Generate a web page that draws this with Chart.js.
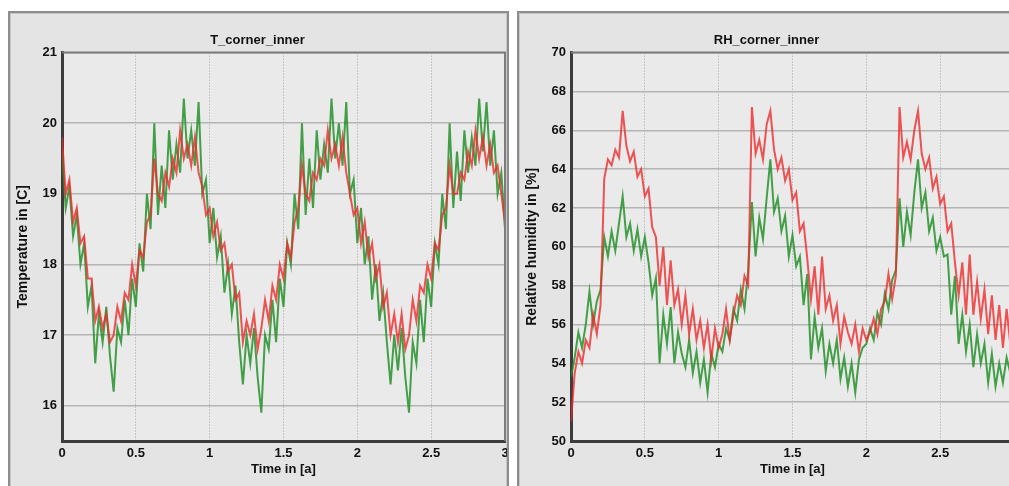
<html>
<head>
	<title>corner_inner</title>
	<meta charset="utf-8">
	<script src="https://cdn.jsdelivr.net/npm/chart.js"></script>
	<style>
		body { margin: 0; width: 1009px; height: 486px; overflow: hidden; background: #fff; position: relative; }
		.panel { position: absolute; top: 11px; width: 501px; height: 480px; box-sizing: border-box; border: 2px solid #8d8d8d; background: #e4e4e4; box-shadow: inset 0 0 0 1px #c6c6c6; }
		.panel canvas { position: absolute; left: 0; top: 0; }
		#panelT { left: 8px; }
		#panelRH { left: 517px; }
	</style>
</head>
<body>
	<div class="panel" id="panelT"><canvas id="tCornerInner" width="497" height="476"></canvas></div>
	<div class="panel" id="panelRH"><canvas id="rhCornerInner" width="497" height="476"></canvas></div>
</body>
<script>
	// samples every 0.025 a (121 points, 0 .. 3)
	const timeStep = 0.025;
	const timeTicks = [0, 0.5, 1, 1.5, 2, 2.5, 3];
	const tTicks = [16, 17, 18, 19, 20, 21];
	const rhTicks = [50, 52, 54, 56, 58, 60, 62, 64, 66, 68, 70];

	const tRed = [
		19.8, 19.0, 19.2, 18.6, 18.8, 18.3, 18.4, 17.8, 17.8, 17.2,
		17.4, 17.1, 17.3, 16.9, 17.0, 17.4, 17.2, 17.6, 17.5, 18.0,
		17.7, 18.2, 18.1, 18.6, 18.7, 19.5, 19.0, 18.9, 19.3, 19.1,
		19.5, 19.3, 19.9, 19.5, 19.7, 19.4, 19.8, 19.3, 19.1, 18.7,
		18.8, 18.4, 18.6, 18.2, 18.3, 17.9, 18.0, 17.5, 17.6, 16.9,
		17.2, 17.0, 17.3, 16.8, 17.1, 17.5, 17.2, 17.7, 17.5, 18.0,
		17.8, 18.3, 18.1, 18.6, 18.8, 19.4, 19.0, 18.9, 19.3, 19.2,
		19.5, 19.4, 19.9, 19.5, 19.7, 19.4, 19.8, 19.3, 19.0, 18.7,
		18.8, 18.3, 18.6, 18.1, 18.3, 17.8, 18.0, 17.4, 17.6, 17.0,
		17.3, 16.9, 17.3, 16.8, 17.0, 17.5, 17.2, 17.7, 17.6, 18.0,
		17.8, 18.3, 18.2, 18.7, 18.8, 19.4, 19.0, 19.0, 19.3, 19.2,
		19.6, 19.4, 19.9, 19.5, 19.8, 19.4, 19.7, 19.3, 19.4, 19.0,
		18.6
	];
	const tGreen = [
		19.6, 18.8, 19.1, 18.4, 18.7, 18.0, 18.3, 17.4, 17.7, 16.6,
		17.3, 16.9, 17.4, 16.7, 16.2, 17.1, 16.9, 17.5, 17.0, 17.8,
		17.4, 18.3, 17.9, 19.0, 18.5, 20.0, 18.7, 19.4, 18.8, 19.9,
		19.2, 19.7, 19.3, 20.35, 19.5, 19.9, 19.4, 20.3, 19.0, 19.2,
		18.3, 18.8, 18.1, 18.4, 17.6, 18.0, 17.3, 17.7, 16.9, 16.3,
		17.0, 16.6, 17.1, 16.4, 15.9, 17.0, 16.8, 17.5, 16.9, 17.8,
		17.4, 18.3, 18.0, 19.0, 18.5, 20.0, 18.7, 19.5, 18.8, 19.9,
		19.2, 19.7, 19.3, 20.35, 19.5, 20.0, 19.4, 20.3, 19.0, 19.2,
		18.3, 18.8, 18.0, 18.4, 17.5, 18.0, 17.2, 17.6, 16.9, 16.3,
		17.0, 16.5, 17.1, 16.4, 15.9, 16.9, 16.6, 17.5, 16.9, 17.8,
		17.4, 18.3, 18.0, 19.0, 18.5, 20.0, 18.8, 19.6, 18.9, 19.9,
		19.3, 19.8, 19.4, 20.35, 19.6, 20.3, 19.4, 19.9, 19.0, 19.3,
		18.5
	];
	const rhRed = [
		51.0, 53.5, 54.6, 54.0, 55.2, 54.8, 56.5, 55.5, 57.0, 63.5,
		64.5, 64.2, 65.0, 64.6, 67.0, 65.2, 64.4, 64.9, 63.6, 64.0,
		62.6, 63.0, 61.0, 60.5, 58.0, 60.0, 57.0, 59.3, 57.0, 57.8,
		56.0, 57.5, 55.5, 56.8, 55.2, 56.2, 54.8, 56.0, 54.2, 55.8,
		54.8, 55.5, 56.8, 55.2, 56.5, 57.5, 57.0, 58.5, 58.0, 67.2,
		64.8, 65.5, 64.5, 66.3, 67.0, 65.0, 64.0, 64.6, 63.4, 64.0,
		62.4, 62.8, 60.8, 61.2, 59.4, 57.3, 59.0, 56.5, 59.5, 56.8,
		57.5, 56.2, 57.0, 55.0, 56.4, 55.6, 55.0, 56.0, 54.6, 55.8,
		55.2, 55.6, 56.3, 55.5, 56.8, 57.2, 58.6, 57.3, 58.5, 67.2,
		64.6, 65.4, 64.5, 66.0, 67.0, 64.8, 64.0, 64.6, 63.0, 63.6,
		62.2, 62.6, 60.8, 61.2, 59.2, 57.5, 59.2, 56.5, 59.6, 56.5,
		58.2, 56.3, 57.8, 55.5, 57.5, 55.2, 57.0, 54.8, 56.8, 55.0,
		55.5
	];
	const rhGreen = [
		53.3, 54.3, 55.6, 54.8, 56.0, 57.7, 56.0, 57.2, 57.8, 60.5,
		59.5, 60.8, 59.8, 61.2, 62.6, 60.5, 61.2, 59.8, 60.9, 59.5,
		60.5, 59.2, 57.5, 58.4, 54.0, 56.5, 55.0, 56.9, 54.0, 55.6,
		54.5, 53.8, 55.2, 53.5, 54.6, 53.0, 54.2, 52.5, 54.5, 53.8,
		55.0, 54.6, 55.8, 55.2, 56.8, 56.2, 57.8, 56.8, 58.8, 62.3,
		59.5, 61.5, 60.4, 62.5, 64.5, 61.8, 62.5, 60.8, 61.6, 59.5,
		60.6, 59.0, 59.5, 57.0, 58.6, 54.2, 56.4, 54.8, 55.8, 53.6,
		55.0, 54.0, 55.2, 53.2, 54.3, 52.8, 54.0, 52.5, 54.2, 54.8,
		55.0, 55.8, 55.2, 56.6, 56.0, 57.6, 56.8, 58.3, 58.8, 62.5,
		60.0, 61.8, 60.6, 62.8, 64.5, 62.0, 62.8, 60.8, 61.5, 59.8,
		60.5, 59.5, 59.6, 56.5, 58.5, 55.0, 56.5, 54.6, 56.0, 53.8,
		55.5, 54.0, 55.0, 53.0, 54.5, 52.8, 54.0, 53.0, 54.3, 53.5,
		54.0
	];

	Chart.defaults.font.family = "'Liberation Sans', Arial, sans-serif";
	Chart.defaults.color = '#111';

	const boldFont = { size: 13, weight: 'bold' };
	const axisTitleFont = { size: 14, weight: 'bold' };

	const toPoints = (values) => values.map((v, i) => ({ x: i * timeStep, y: v }));

	// light plot background + grey frame on top/right like the original tool
	const plotFrame = {
		id: 'plotFrame',
		beforeDraw(chart) {
			const { ctx, chartArea: a } = chart;
			ctx.save();
			ctx.fillStyle = '#eaeaea';
			ctx.fillRect(a.left, a.top, a.width, a.height);
			ctx.restore();
		},
		afterDatasetsDraw(chart) {
			const { ctx, chartArea: a } = chart;
			ctx.save();
			ctx.strokeStyle = '#7c7c7c';
			ctx.lineWidth = 2;
			ctx.beginPath();
			ctx.moveTo(a.left, a.top);
			ctx.lineTo(a.right, a.top);
			ctx.lineTo(a.right, a.bottom);
			ctx.stroke();
			ctx.restore();
		}
	};

	const makeConfig = (title, yTitle, yMin, yMax, yTicks, red, green) => ({
		type: 'line',
		data: {
			datasets: [{
				data: toPoints(red),
				borderColor: 'rgba(236, 44, 44, 0.8)',
				borderWidth: 2,
				pointRadius: 0,
				tension: 0
			},
			{
				data: toPoints(green),
				borderColor: 'rgba(30, 142, 36, 0.82)',
				borderWidth: 2,
				pointRadius: 0,
				tension: 0
			}]
		},
		options: {
			responsive: false,
			animation: false,
			devicePixelRatio: 1,
			layout: { padding: { left: 0, right: 2, top: 0, bottom: 0 } },
			plugins: {
				legend: { display: false },
				tooltip: { enabled: false },
				title: {
					display: true,
					text: title,
					font: boldFont,
					color: '#111',
					padding: { top: 20, bottom: 4 }
				}
			},
			scales: {
				x: {
					type: 'linear',
					min: 0,
					max: 3,
					afterBuildTicks: (s) => { s.ticks = timeTicks.map(v => ({ value: v })); },
					afterFit: (s) => { s.height = 48; s.paddingRight = 0; },
					ticks: { font: boldFont, color: '#111', padding: 5, callback: (v) => String(v) },
					grid: { color: '#a4a4a4', lineWidth: 1, drawTicks: false },
					border: { display: true, color: '#3c3c3c', width: 3, dash: [1, 2] },
					title: { display: true, text: 'Time in [a]', font: boldFont, color: '#111', padding: { top: 0, bottom: 12 } }
				},
				y: {
					min: yMin,
					max: yMax,
					afterBuildTicks: (s) => { s.ticks = yTicks.map(v => ({ value: v })); },
					afterFit: (s) => { s.width = 52; },
					ticks: { font: boldFont, color: '#111', padding: 5 },
					grid: { color: '#b4b4b4', lineWidth: 1.5, drawTicks: false },
					border: { display: true, color: '#3c3c3c', width: 3 },
					title: { display: true, text: yTitle, font: axisTitleFont, color: '#111', padding: { top: 5, bottom: 0 } }
				}
			}
		},
		plugins: [plotFrame]
	});

	const tCornerInner = new Chart(
		document.getElementById('tCornerInner'),
		makeConfig('T_corner_inner', 'Temperature in [C]', 15.5, 21, tTicks, tRed, tGreen)
	);
	const rhCornerInner = new Chart(
		document.getElementById('rhCornerInner'),
		makeConfig('RH_corner_inner', 'Relative humidity in [%]', 50, 70, rhTicks, rhRed, rhGreen)
	);
</script>
</html>
